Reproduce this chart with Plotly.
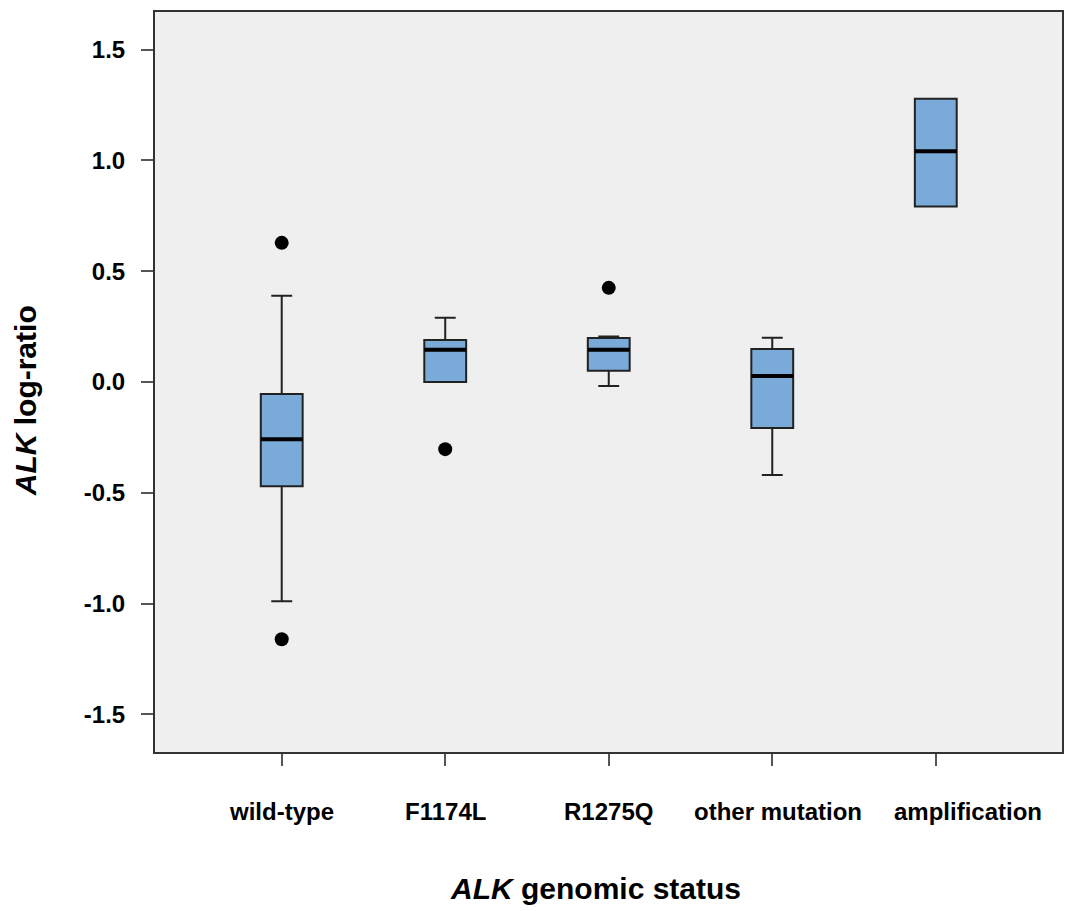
import plotly.graph_objects as go

categories = ["wild-type", "F1174L", "R1275Q", "other mutation", "amplification"]
lower_fence = [-0.99, 0.0, -0.018, -0.42, 0.792]
q1 = [-0.47, 0.0, 0.051, -0.208, 0.792]
median = [-0.258, 0.145, 0.145, 0.027, 1.041]
q3 = [-0.054, 0.19, 0.199, 0.149, 1.279]
upper_fence = [0.389, 0.29, 0.205, 0.2, 1.279]
outlier_category = ["wild-type", "wild-type", "F1174L", "R1275Q"]
outlier_value = [0.628, -1.161, -0.303, 0.425]

y_ticks = [-1.5, -1.0, -0.5, 0.0, 0.5, 1.0, 1.5]
# horizontal nudges (px) of the category labels, as in the original layout
label_shift = [0, 0, 0, 6, 32]

pos = list(range(len(categories)))
box_w = 0.256
font = "Liberation Sans, Arial, sans-serif"

fig = go.Figure()
fig.add_trace(go.Box(
    x=pos, q1=q1, median=median, q3=q3,
    lowerfence=lower_fence, upperfence=upper_fence,
    width=box_w, whiskerwidth=0.5,
    fillcolor="#7aaad8",
    line=dict(color="#222222", width=2),
    boxpoints=False, showlegend=False, hoverinfo="skip",
))

# thick black median bars
mx, my = [], []
for i, m in zip(pos, median):
    mx += [i - box_w / 2, i + box_w / 2, None]
    my += [m, m, None]
fig.add_trace(go.Scatter(x=mx, y=my, mode="lines",
                         line=dict(color="black", width=4),
                         showlegend=False, hoverinfo="skip"))

fig.add_trace(go.Scatter(
    x=[categories.index(c) for c in outlier_category], y=outlier_value,
    mode="markers", marker=dict(color="black", size=14),
    showlegend=False, hoverinfo="skip"))

annotations = [
    dict(text="<i>ALK</i> genomic status", xref="paper", yref="paper",
         x=0.486, y=-0.1838, xanchor="center", yanchor="middle",
         showarrow=False, font=dict(size=30, weight="bold")),
    dict(text="<i>ALK</i> log-ratio", xref="paper", yref="paper",
         x=-0.1433, y=0.474, xanchor="center", yanchor="middle",
         textangle=-90, showarrow=False, font=dict(size=30, weight="bold")),
]
for i, (c, s) in enumerate(zip(categories, label_shift)):
    annotations.append(dict(
        text=c, x=i, xref="x", y=0, yref="paper", yshift=-59, xshift=s,
        xanchor="center", yanchor="middle", showarrow=False,
        font=dict(size=24, weight="bold")))

fig.update_layout(
    width=1073, height=911,
    margin=dict(l=155, r=11, t=12, b=159),
    paper_bgcolor="white", plot_bgcolor="#efefef",
    font=dict(family=font, color="black"),
    annotations=annotations,
)
fig.update_xaxes(
    range=[-0.775, 4.772], tickmode="array", tickvals=pos,
    showticklabels=False, automargin=False,
    showgrid=False, zeroline=False,
    showline=True, mirror=True, linecolor="#333333", linewidth=2,
    ticks="outside", ticklen=12, tickwidth=2, tickcolor="#555555",
)
fig.update_yaxes(
    range=[-1.67, 1.67], tickmode="array", tickvals=y_ticks,
    ticktext=[f"{v:.1f}" for v in y_ticks], automargin=False,
    showgrid=False, zeroline=False,
    showline=True, mirror=True, linecolor="#333333", linewidth=2,
    ticks="outside", ticklen=12, tickwidth=2, tickcolor="#555555",
    tickfont=dict(size=24, weight="bold"), ticklabelstandoff=11,
)

fig.write_html("out.html")
